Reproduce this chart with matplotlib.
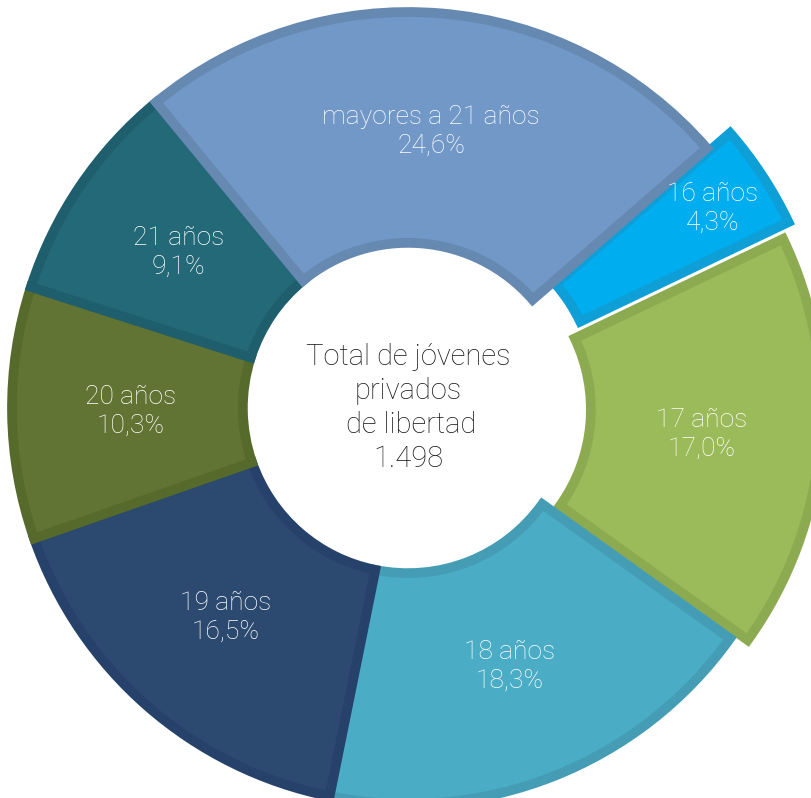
import numpy as np
import matplotlib.pyplot as plt

# datos (porcentajes por edad)
edades = ['16 años', '17 años', '18 años', '19 años', '20 años', '21 años', 'mayores a 21 años']
porcentajes = [4.3, 17.0, 18.3, 16.5, 10.3, 9.1, 24.6]
etiquetas_pct = ['4,3%', '17,0%', '18,3%', '16,5%', '10,3%', '9,1%', '24,6%']
total = '1.498'

colores = ['#00AEEF', '#9BBA59', '#4BACC6', '#2C4A6F', '#617433', '#246977', '#7298C8']
bordes = ['#0E9FD6', '#8CAB50', '#449DB5', '#26426A', '#566A2B', '#1F5E6C', '#6689B2']
explode = [0.07, 0.045, 0, 0, 0, 0, 0]

plt.rcParams['font.family'] = ['Roboto', 'DejaVu Sans']

R = 396.0
fig = plt.figure(figsize=(8.11, 7.98), dpi=100)
ax = fig.add_axes([0, 0, 1, 1])

wedges, _ = ax.pie(porcentajes, colors=colores, explode=explode, startangle=41,
                   counterclock=False, radius=1.0,
                   wedgeprops=dict(width=0.583, linewidth=7))
for w, b in zip(wedges, bordes):
    w.set_edgecolor(b)
    w.set_clip_path(w)  # borde solo hacia adentro

# etiquetas
for i, w in enumerate(wedges):
    ang = np.deg2rad((w.theta1 + w.theta2) / 2)
    r = 0.85 if i == 0 else 0.70
    cx, cy = w.center
    x = cx + r * np.cos(ang)
    y = cy + r * np.sin(ang)
    ax.text(x, y, edades[i] + '\n' + etiquetas_pct[i], ha='center', va='center',
            color='white', fontsize=19, fontweight='light', linespacing=1.25, zorder=5)

ax.text(0, 0, 'Total de jóvenes\nprivados\n de libertad\n' + total, ha='center', va='center',
        color='#1a1a1a', fontsize=21, fontweight='light', linespacing=1.27, zorder=5)

ax.set_xlim(-408 / R, (811 - 408) / R)
ax.set_ylim(-(798 - 408) / R, 408 / R)
ax.set_aspect('auto')
ax.axis('off')

fig.savefig('out.png', dpi=100)
